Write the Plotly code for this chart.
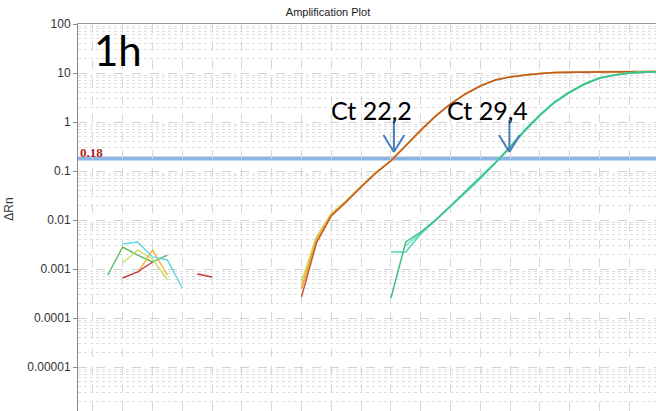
import plotly.graph_objects as go
import math

# ---------------- data ----------------
threshold = 0.18
ct_labels = ["Ct 22,2", "Ct 29,4"]
ct_arrow_cycles = [22.2, 29.95]

ytick_vals = [100, 10, 1, 0.1, 0.01, 0.001, 0.0001, 0.00001]
ytick_text = ["100", "10", "1", "0.1", "0.01", "0.001", "0.0001", "0.00001"]

# early-cycle noise (positive values only shown on log scale)
noise_cyan_cycles = [4, 5, 6, 7, 8]
noise_cyan = [3.24e-3, 3.56e-3, 1.76e-3, 1.53e-3, 4.09e-4]
noise_green_cycles = [3, 4, 5, 6, 7]
noise_green = [7.55e-4, 2.81e-3, 1.93e-3, 1.39e-3, 1.93e-3]
noise_ygreen_cycles = [4, 5, 6, 7]
noise_ygreen = [1.33e-3, 2.44e-3, 1.6e-3, 5.97e-4]
noise_orange_cycles = [5, 6, 7]
noise_orange = [8.3e-4, 2.44e-3, 7.5e-4]
noise_red_cycles = [4, 5, 6]
noise_red = [6.55e-4, 8.69e-4, 1.39e-3]
noise_red2_cycles = [9, 10]
noise_red2 = [7.9e-4, 6.87e-4]

# sample 1 (Ct ~22)
s1_cycles = list(range(16, 41))
s1_brown = [2.7e-4, 3.4e-3, 0.0121, 0.0233, 0.0471, 0.091, 0.160, 0.324, 0.687, 1.32,
            2.33, 3.73, 5.43, 7.2, 8.3, 9.1, 9.8, 10.2, 10.4, 10.5, 10.6, 10.6, 10.7, 10.7, 10.7]
s1_orange = [4.0e-4, 3.9e-3, 0.0128, 0.0240, 0.0480, 0.093, 0.163, 0.328, 0.69, 1.33,
             2.34, 3.74, 5.44, 7.2, 8.35, 9.1, 9.8, 10.2, 10.4, 10.5, 10.6, 10.6, 10.7, 10.7, 10.7]
s1_ygreen = [5.4e-4, 4.5e-3, 0.0135, 0.0250, 0.0490, 0.094, 0.165, 0.33, 0.69, 1.33,
             2.35, 3.75, 5.45, 7.2, 8.4, 9.15, 9.8, 10.2, 10.4, 10.5, 10.6, 10.6, 10.7, 10.7, 10.7]

# sample 2 (Ct ~29)
s2_cycles = list(range(22, 41))
s2_green = [2.56e-4, 3.56e-3, 5.69e-3, 0.0100, 0.0193, 0.0373, 0.0720, 0.146, 0.309, 0.687,
            1.39, 2.56, 4.09, 5.97, 7.9, 9.1, 10.0, 10.5, 10.6]
s2_cyan = [2.22e-3, 2.22e-3, 5.2e-3, 0.0098, 0.0190, 0.0360, 0.0700, 0.142, 0.300, 0.660,
           1.35, 2.50, 4.00, 5.90, 7.8, 9.0, 9.9, 10.4, 10.6]
s2_aqua = [None, 3.0e-3, 5.5e-3, 0.0099, 0.0195, 0.0380, 0.0735, 0.149, 0.315, 0.70,
           1.42, 2.62, 4.15, 6.05, 7.95, 9.15, 10.0, 10.5, 10.6]

# ---------------- figure ----------------
W, H = 656, 411
ML, MT = 78, 24
x_range = [1, 39.79]
y_range = [-5.898, 2]

fig = go.Figure()

def add(cyc, vals, color, width=1.4):
    fig.add_trace(go.Scatter(x=cyc, y=vals, mode="lines",
                             line=dict(color=color, width=width),
                             connectgaps=False, hoverinfo="skip", showlegend=False))

add(noise_green_cycles, noise_green, "#5DBB63")
add(noise_ygreen_cycles, noise_ygreen, "#C9DD6A")
add(noise_orange_cycles, noise_orange, "#F4B43A")
add(noise_cyan_cycles, noise_cyan, "#62D3E3")
add(noise_red_cycles, noise_red, "#C23B3B")
add(noise_red2_cycles, noise_red2, "#C23B3B")

add(s1_cycles, s1_ygreen, "#C8DA50", 1.6)
add(s1_cycles, s1_orange, "#F2A43A", 1.8)
add(s1_cycles, s1_brown, "#BE5A2A", 1.5)

add(s2_cycles, s2_aqua, "#7FE6C6", 1.8)
add(s2_cycles, s2_cyan, "#55D6B4", 1.6)
add(s2_cycles, s2_green, "#3FC17E", 1.5)

shapes = []
# threshold line (shape coords on log axis given as data values)
shapes.append(dict(type="line", xref="paper", x0=0, x1=1, yref="y", y0=threshold, y1=threshold,
                   line=dict(color="#8DB4E6", width=4), layer="below"))

# Ct arrows (shaft + open chevron head)
arrow_color = "#4A7EBB"
y_top, y_tip, y_arm = 10 ** 0.041, 10 ** -0.612, 10 ** -0.265
for cx in ct_arrow_cycles:
    shapes.append(dict(type="line", xref="x", yref="y", x0=cx, x1=cx, y0=y_top, y1=y_tip,
                       line=dict(color=arrow_color, width=2)))
    shapes.append(dict(type="line", xref="x", yref="y", x0=cx - 0.7, x1=cx, y0=y_arm, y1=y_tip,
                       line=dict(color=arrow_color, width=2)))
    shapes.append(dict(type="line", xref="x", yref="y", x0=cx + 0.7, x1=cx, y0=y_arm, y1=y_tip,
                       line=dict(color=arrow_color, width=2)))

ly = math.log10(threshold)
annotations = []
annotations.append(dict(text="1h", xref="x", yref="y", x=3.68, y=1.47, showarrow=False,
                        font=dict(family="Lato, Open Sans, sans-serif", size=42, color="#000")))
for lab, cx in zip(ct_labels, [20.73, 28.45]):
    annotations.append(dict(text=lab, xref="x", yref="y", x=cx, y=0.245, showarrow=False,
                            font=dict(family="Lato, Open Sans, sans-serif", size=25, color="#000")))
annotations.append(dict(text="<b>0.18</b>", xref="paper", yref="y", x=0, y=ly, xanchor="left",
                        yanchor="bottom", yshift=-4, showarrow=False,
                        font=dict(family="Liberation Serif, serif", size=13, color="#B01E1E")))
annotations.append(dict(text="ΔRn", xref="paper", yref="paper", x=(9 - ML) / (W - ML), y=0.52,
                        textangle=-90, showarrow=False, xanchor="center", yanchor="middle",
                        font=dict(family="Liberation Sans, Arial, sans-serif", size=12, color="#333")))

minor_vals = [m * 10 ** e for e in range(-6, 2) for m in range(2, 10)]

fig.update_layout(
    width=W, height=H,
    margin=dict(l=ML, r=0, t=MT, b=0, pad=0, autoexpand=False),
    paper_bgcolor="white", plot_bgcolor="white",
    title=dict(text="Amplification Plot", x=0.5, xanchor="center", xref="container",
               y=(H - 12) / H, yref="container", yanchor="middle", automargin=False,
               font=dict(family="Liberation Sans, Arial, sans-serif", size=11, color="#222")),
    shapes=shapes, annotations=annotations,
    xaxis=dict(range=x_range, side="top", showticklabels=False, ticks="", automargin=False,
               showline=True, linecolor="#999", linewidth=1,
               tick0=0, dtick=2, showgrid=True, gridcolor="#d8d8d8", griddash="dash",
               gridwidth=1, zeroline=False),
    yaxis=dict(type="log", range=y_range, tickmode="array", tickvals=ytick_vals,
               ticktext=ytick_text, ticks="outside", ticklen=4, tickcolor="#888",
               automargin=False,
               showline=True, linecolor="#888", linewidth=1,
               showgrid=True, gridcolor="#d2d2d2", griddash="dash", zeroline=False,
               tickfont=dict(family="Liberation Sans, Arial, sans-serif", size=12, color="#333"),
               minor=dict(tickvals=minor_vals, showgrid=True, gridcolor="#dedede",
                          griddash="dot", ticks="")),
)

fig.write_html("out.html", config={"displayModeBar": False},
               post_script="document.body.style.margin='0';document.body.style.overflow='hidden';")
